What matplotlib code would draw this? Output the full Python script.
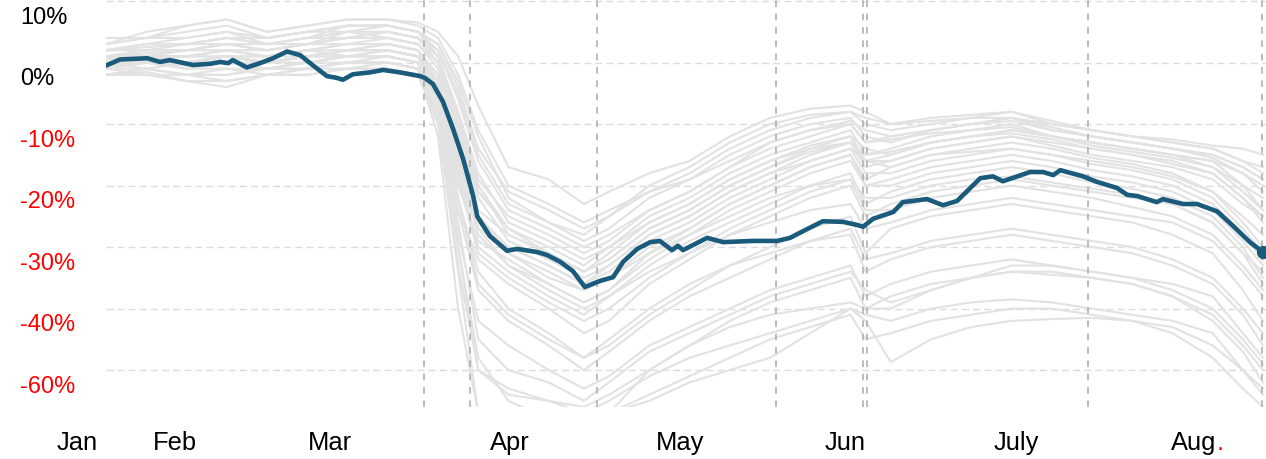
import matplotlib.pyplot as plt
import matplotlib.transforms as mtransforms

plt.rcParams['font.family'] = ['Liberation Sans', 'DejaVu Sans']

# x is measured in days from the start of the series
blue_day = [0, 2.8, 8.2, 10.7, 12.7, 17.3, 20.7, 22.7, 24.3, 25.2, 28.0, 30.6,
            33.2, 36.0, 38.6, 41.2, 43.9, 45.9, 47.1, 49.1, 52.5, 55.1, 58.4,
            62.4, 63.4, 65.0, 67.0, 69.0, 71.0, 73.0, 73.8, 76.3, 79.7, 81.7,
            85.7, 87.7, 90.3, 92.8, 95.2, 98.2, 100.8, 102.8, 105.6, 108.2,
            110.1, 112.5, 113.7, 114.7, 119.5, 122.7, 128.6, 133.4, 136.0,
            138.6, 142.5, 146.5, 149.3, 150.5, 152.5, 156.5, 158.4, 163.2,
            166.4, 169.2, 173.8, 176.3, 178.3, 183.7, 186.3, 188.3, 189.7,
            194.2, 197.0, 201.0, 203.0, 205.0, 208.9, 210.1, 214.1, 216.9,
            220.9, 224.1, 227.4, 230]
blue_val = [-0.5, 0.5, 0.7, 0.1, 0.4, -0.4, -0.2, 0.1, -0.1, 0.4, -0.8, -0.1,
            0.7, 1.8, 1.2, -0.5, -2.2, -2.5, -2.8, -1.9, -1.6, -1.2, -1.6,
            -2.2, -2.5, -3.5, -6.4, -10.8, -15.7, -21.7, -25.0, -28.2, -30.6,
            -30.3, -30.8, -31.3, -32.4, -33.9, -36.5, -35.5, -34.9, -32.4,
            -30.3, -29.2, -29.0, -30.5, -29.8, -30.5, -28.5, -29.2, -29.0,
            -29.0, -28.5, -27.4, -25.8, -25.9, -26.4, -26.7, -25.4, -24.3,
            -22.7, -22.2, -23.2, -22.5, -18.8, -18.5, -19.3, -17.8, -17.8,
            -18.3, -17.5, -18.5, -19.4, -20.4, -21.5, -21.7, -22.7, -22.2,
            -23.0, -23.0, -24.2, -26.6, -29.2, -30.8]

# the grey comparison series share one set of days
grey_day = [0, 8, 16, 24, 32, 40, 48, 56, 62, 66, 70, 74, 80, 88, 95, 100, 108,
            116, 124, 132, 140, 148, 151, 156, 164, 172, 180, 188, 196, 204,
            212, 220, 226, 230]
grey_a = [3, 5, 6, 7, 5, 6, 7, 7, 6.5, 5, 1, -7, -17, -19, -23, -21, -18, -16,
          -12, -9, -7.5, -7, -8, -10, -9, -8.5, -8, -10, -11, -12, -12.5,
          -13.5, -14, -15]
grey_b = [2, 3, 4, 5, 3, 4, 6, 6, 5, 3, -3, -12, -22, -26, -29, -27, -22, -19,
          -15, -12, -10, -9, -12, -13, -11, -10, -9.5, -11, -12, -13, -14, -15,
          -17, -19]
grey_c = [1, 1.5, 2, 3, 2, 3, 4, 5, 4, 1, -8, -18, -26, -29, -32, -30, -25, -22,
          -18, -15, -13, -11, -15, -14, -12, -11, -10, -12, -13.5, -14.5,
          -15.5, -17, -20, -22]
grey_d = [0.5, 1, 1, 2, 1, 2, 3, 3, 2, -2, -14, -24, -28, -31, -34, -32, -27,
          -24, -20, -17, -14, -12, -16, -16, -14, -13, -12, -13.5, -15, -16,
          -17, -19, -23, -25]
grey_e = [0, 0.5, 1, 1, 0, 1, 2, 2, 1, -4, -18, -27, -30, -33, -36, -34, -29,
          -26, -22, -19, -16, -14, -18, -18, -16, -15, -14, -15, -16, -17,
          -18.5, -21, -25, -28]
grey_f = [-1, 0, -0.5, 0, -1, 0, 1, 1, 0, -6, -20, -29, -32, -36, -39, -37,
          -32, -28, -24, -21, -18, -16, -20, -20, -18, -17, -16, -17, -18.5,
          -19.5, -21, -24, -29, -33]
grey_g = [2, 2.5, 3, 4, 4, 5, 5, 4, 3, 0, -10, -20, -27, -30, -33, -30, -26,
          -23, -19, -16, -13.5, -12, -14, -15, -13, -12, -11, -12, -13, -14,
          -15, -16, -20, -24]
grey_h = [1, 2, 2, 3, 3, 4, 4, 5, 4, 2, -6, -16, -24, -27, -30, -28, -24, -21,
          -17, -14, -12, -10, -13, -12, -11, -10, -9, -10.5, -12, -13, -14,
          -15.5, -18, -21]
grey_i = [-2, -1.5, -3, -3, -2, -2, -1, -1, -2, -9, -24, -32, -36, -40, -44,
          -42, -36, -32, -28, -25, -22, -20, -25, -23, -21, -20, -19, -20, -21,
          -22, -23, -26, -31, -36]
grey_j = [1, 1, 0, 1, 1, 2, 1, 2, 1, -3, -16, -26, -31, -35, -37, -35, -30,
          -27, -23, -20, -17, -15, -19, -17, -15, -14, -13, -14, -15.5, -16.5,
          -18, -21, -26, -30]
grey_k = [3, 4, 5, 6, 4, 5, 6, 6, 5, 2, -5, -15, -23, -26, -28, -25, -21, -18,
          -14, -11, -9, -8, -10, -11, -10, -9, -9, -10, -11, -12, -13, -14,
          -16, -17]
grey_l = [0, 1, 1, 2, 2, 3, 3, 4, 3, -1, -12, -22, -29, -32, -35, -33, -28,
          -25, -21, -18, -15, -13, -17, -16, -14, -13, -12, -13, -14, -15,
          -16.5, -18, -22, -26]
grey_m = [-1, 0, 0, 1, 0, 1, 1, 2, 1, -5, -22, -34, -40, -44, -48, -46, -41,
          -37, -33, -30, -27, -25, -31, -27, -25, -24, -23, -24, -25, -26, -28,
          -31, -37, -42]
grey_n = [0, 0, -1, -1, -1, 0, 0, 1, 0, -7, -28, -42, -46, -50, -53, -51, -46,
          -43, -40, -37, -35, -33, -38, -36, -34, -33, -32, -33, -34, -35, -37,
          -40, -45, -49]
grey_o = [-2, -2, -3, -4, -2, -2, -1, -1, -2, -10, -34, -57, -57, -57, -58,
          -57, -55, -52, -50, -48, -44, -40, -42, -48.7, -45, -43, -42, -41.7,
          -41.5, -42, -43, -46, -50, -53]
grey_p = [-1, -1, -2, -2, -1, -1, 0, 0, -1, -8, -30, -50, -54, -55, -56, -54,
          -50, -46, -43, -41, -40, -39, -40, -40, -37, -35, -34, -34, -35, -36,
          -38, -41, -46, -50]
grey_q = [1, 1, 0, 0, 0, 1, 2, 2, 1, -4, -26, -45, -50, -52, -55, -52, -47,
          -44, -41, -38, -36, -34, -37, -39, -37, -35, -33, -33, -34, -35, -36,
          -38, -44, -48]
grey_r = [-0.5, 0, 0, 1, 0, 1, 2, 2, 1, -3, -18, -30, -34, -38, -41, -38, -33,
          -29, -26, -23, -20, -18, -23, -21, -19, -18, -17, -18, -19.5, -20.5,
          -22, -25, -30, -35]
grey_s = [2, 3, 3, 4, 3, 4, 5, 6, 5, 1, -9, -19, -25, -28, -31, -29, -24, -21,
          -17, -13, -11, -9.5, -11, -12, -11, -10, -9, -11, -12, -13, -14, -15,
          -17, -19]
grey_t = [0, 1, 1, 1, 0, 1, 1, 1, 0, -6, -24, -37, -42, -46, -50, -47, -42,
          -38, -35, -32, -29, -28, -34, -32, -30, -29, -28, -29, -30, -31, -33,
          -36, -41, -46]
grey_u = [4, 4, 6, 7, 5, 6, 7, 7, 6, 4, -2, -11, -20, -23, -26, -24, -21, -19,
          -16, -13, -11, -10, -13, -12.5, -11.5, -11, -10.5, -12, -13, -14, -15,
          -16, -18, -20]
grey_v = [-2, -1, -2, -2, -1, -1, 0, 0, -1, -4, -15, -25, -30, -33, -36, -33,
          -28, -25, -21, -18, -16, -14, -16, -17, -15, -14.5, -14, -15, -16.5,
          -17.5, -19, -22, -27, -31]
grey_w = [1, 1, 2, 2, 1, 2, 3, 3, 2, -2, -15, -27, -33, -37, -40, -38, -34, -31,
          -28, -26, -24, -23, -27, -26, -24, -23, -22, -23, -24, -25, -26, -29,
          -34, -38]
grey_x = [0, -1, 0, 1, 0, 0, 1, 2, 1, -5, -19, -31, -35, -39, -42, -40, -35,
          -31, -27, -24, -21, -19, -24, -24, -22, -21, -20, -21, -22, -23.5,
          -25, -28, -33, -37]
grey_y = [2, 2, 3, 3, 2, 3, 4, 5, 4, 0, -13, -25, -31, -34, -37, -35, -31, -28,
          -25, -22, -20, -19, -22, -22, -20, -19, -18.5, -19.5, -20.5, -21.5,
          -23, -26, -31, -34]
grey_z = [-1, -2, -2, -1, -2, -1, 0, 0, -1, -12, -40, -57, -58, -58, -58, -57,
          -54, -51, -48, -45, -43, -41, -45, -44, -42, -41, -40, -40, -41, -42,
          -44, -48, -53, -56]
grey_aa = [0, 0, -1, 0, -1, 0, 1, 1, 0, -9, -33, -50, -53, -55, -57, -55, -51,
           -48, -46, -44, -42, -40, -41, -42, -40, -39, -38.5, -39, -40, -41,
           -42, -44, -50, -54]
grey_ab = [1, 1, 1, 2, 1, 2, 2, 3, 2, -4, -22, -36, -41, -45, -48, -45, -40,
           -36, -33, -31, -29, -27, -32, -31, -29, -28, -27, -28, -29, -30, -32,
           -35, -40, -44]
grey_ac = [3, 4, 4, 5, 4, 5, 6, 6, 5, 3, -4, -14, -21, -24, -27, -25, -20, -17,
           -13, -10, -8.5, -8, -9, -10, -9.5, -9, -8, -9.5, -11, -12, -13, -14,
           -16, -18]
grey_ad = [1, 2, 2, 3, 2, 3, 4, 4, 3, 0, -11, -21, -27, -31, -34, -31, -26,
           -23, -19, -16, -14, -13, -16, -15, -13, -12, -11.5, -12.5, -14, -15,
           -16, -18, -22, -25]
grey_ae = [0, 1, 0, 1, 1, 1, 2, 3, 2, -3, -17, -28, -33, -36, -39, -37, -31,
           -27, -23, -20, -17, -15, -20, -19, -17, -16, -15, -16, -17.5, -18.5,
           -20, -23, -28, -32]
grey_af = [-2, -1, -2, -3, -2, -1, -1, 0, -1, -8, -30, -48, -55, -58, -60, -57,
           -50, -46, -42, -39, -37, -35, -40, -38, -36, -35, -34, -34.5, -35,
           -36, -38, -42, -47, -52]
grey_ag = [2, 3, 3, 4, 3, 3, 5, 5, 4, 1, -9, -20, -28, -31, -34, -32, -27, -24,
           -20, -17, -14.5, -13, -15, -14.5, -13, -12, -11, -12, -13, -14, -15,
           -17, -21, -24]
grey_series = [grey_a, grey_b, grey_c, grey_d, grey_e, grey_f, grey_g, grey_h,
               grey_i, grey_j, grey_k, grey_l, grey_m, grey_n, grey_o, grey_p,
               grey_q, grey_r, grey_s, grey_t, grey_u, grey_v, grey_w, grey_x,
               grey_y, grey_z, grey_aa, grey_ab, grey_ac, grey_ad, grey_ae,
               grey_af, grey_ag]

# dashed markers for key dates
event_days = [63.2, 72.4, 97.6, 133.2, 150.5, 151.3, 195.2, 229.8]

ytick_vals = [10, 0, -10, -20, -30, -40, -50]
ytick_labels = ['10%', '0%', '-10%', '-20%', '-30%', '-40%', '-60%']
ytick_colors = ['black', 'black', 'red', 'red', 'red', 'red', 'red']

month_labels = ['Jan', 'Feb', 'Mar', 'Apr', 'May', 'Jun', 'July', 'Aug']
month_pos = [-5.8, 13.7, 44.5, 80.3, 114.1, 146.9, 180.9, 216.3]

blue = '#1a5b7c'

fig = plt.figure(figsize=(12.66, 4.6), dpi=100)
ax = fig.add_axes([106 / 1266, 52 / 460, 1160 / 1266, 408 / 460])
ax.set_xlim(0, 230.6)
ax.set_ylim(-56.0, 10.33)
for s in ax.spines.values():
    s.set_visible(False)
ax.set_xticks([])
ax.set_yticks([])

# horizontal grid
for v in ytick_vals:
    ax.axhline(v, color='#dcdcdc', lw=1, ls=(0, (5, 3)), zorder=0.5)

# background series
for g in grey_series:
    ax.plot(grey_day, g, color='#e2e2e2', lw=1.5, zorder=1, solid_joinstyle='round')

for d in event_days:
    ax.axvline(d, color='#b0b0b0', lw=1.2, ls=(0, (4, 4)), zorder=2)

# highlighted series
ax.plot(blue_day, blue_val, color=blue, lw=3.3, zorder=3,
        solid_joinstyle='round', solid_capstyle='round')
ax.plot(blue_day[-1], blue_val[-1], 'o', color=blue, markersize=8.5,
        zorder=4, clip_on=False)

# y labels sit a little below their grid lines
ylab_tf = (mtransforms.blended_transform_factory(fig.transFigure, ax.transData)
           + mtransforms.ScaledTranslation(0, -0.215, fig.dpi_scale_trans))
for v, lab, c in zip(ytick_vals, ytick_labels, ytick_colors):
    ax.text(20 / 1266, v, lab, transform=ylab_tf, ha='left', va='baseline',
            fontsize=17, color=c, clip_on=False)

xlab_tf = mtransforms.blended_transform_factory(ax.transData, ax.transAxes)
for pos, lab in zip(month_pos, month_labels):
    t = ax.text(pos, -0.104, lab, transform=xlab_tf, ha='center',
                va='baseline', fontsize=18.4, color='black', clip_on=False)
# the red full stop after the last month
ax.annotate('.', xy=(1, 0), xycoords=t, ha='left', va='bottom',
            fontsize=18.4, color='red')

fig.savefig('out.png', dpi=100)
